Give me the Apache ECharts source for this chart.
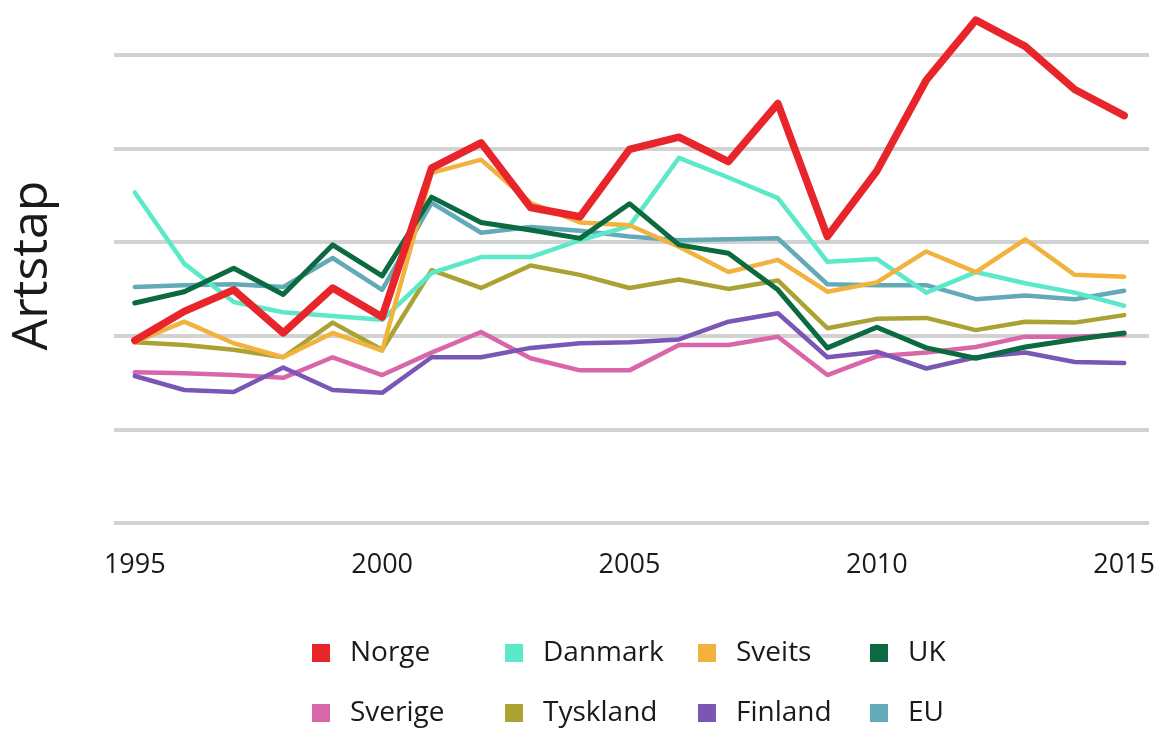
<!DOCTYPE html>
<html>
<head>
<meta charset="utf-8">
<script src="https://cdn.jsdelivr.net/npm/echarts@6/dist/echarts.min.js"></script>
<style>
  html, body { margin: 0; padding: 0; background: #fff; }
  #main { width: 1158px; height: 729px; }
</style>
</head>
<body>
<div id="main"></div>
<script>
// år
var years = [1995, 1996, 1997, 1998, 1999, 2000, 2001, 2002, 2003, 2004, 2005,
  2006, 2007, 2008, 2009, 2010, 2011, 2012, 2013, 2014, 2015];
var yearTicks = [1995, 2000, 2005, 2010, 2015];

// verdier lest av figuren
var norge = [1.95, 2.26, 2.49, 2.03, 2.51, 2.20, 3.79, 4.06, 3.37, 3.27, 3.99,
  4.12, 3.86, 4.48, 3.06, 3.76, 4.73, 5.37, 5.09, 4.63, 4.35];
var danmark = [3.53, 2.77, 2.36, 2.25, 2.21, 2.17, 2.67, 2.84, 2.84, 3.02, 3.17,
  3.90, 3.69, 3.47, 2.79, 2.82, 2.46, 2.68, 2.56, 2.46, 2.32];
var sveits = [1.93, 2.15, 1.92, 1.77, 2.03, 1.84, 3.74, 3.88, 3.42, 3.21, 3.18,
  2.95, 2.68, 2.81, 2.47, 2.57, 2.90, 2.68, 3.03, 2.65, 2.63];
var uk = [2.35, 2.47, 2.72, 2.44, 2.97, 2.64, 3.48, 3.21, 3.13, 3.04, 3.41,
  2.97, 2.88, 2.49, 1.87, 2.09, 1.87, 1.76, 1.88, 1.96, 2.03];
var sverige = [1.61, 1.60, 1.58, 1.55, 1.77, 1.58, 1.82, 2.04, 1.76, 1.63, 1.63,
  1.90, 1.90, 1.99, 1.58, 1.78, 1.82, 1.88, 1.99, 1.99, 2.01];
var tyskland = [1.93, 1.90, 1.85, 1.77, 2.14, 1.85, 2.70, 2.51, 2.75, 2.65, 2.51,
  2.60, 2.50, 2.59, 2.08, 2.18, 2.19, 2.06, 2.15, 2.14, 2.22];
var finland = [1.57, 1.42, 1.40, 1.66, 1.42, 1.39, 1.77, 1.77, 1.87, 1.92, 1.93,
  1.96, 2.15, 2.24, 1.77, 1.83, 1.65, 1.77, 1.82, 1.72, 1.71];
var eu = [2.52, 2.54, 2.55, 2.52, 2.83, 2.49, 3.42, 3.10, 3.16, 3.12, 3.06,
  3.02, 3.03, 3.04, 2.55, 2.54, 2.54, 2.39, 2.43, 2.39, 2.48];

var chart = echarts.init(document.getElementById('main'), null, { renderer: 'canvas' });

function pairs(vals) {
  return years.map(function (y, i) { return [y, vals[i]]; });
}

function line(name, vals, color, width, z) {
  return {
    name: name,
    type: 'line',
    data: pairs(vals),
    symbol: 'none',
    z: z || 2,
    lineStyle: { color: color, width: width, join: 'round', cap: 'round' },
    itemStyle: { color: color }
  };
}

var font = '"Open Sans", "Noto Sans", sans-serif';

// en legend per navn, plassert i to rader og fire kolonner
function legendItem(name, left, top) {
  return {
    left: left,
    top: top,
    padding: 0,
    itemWidth: 18,
    itemHeight: 18,
    icon: 'rect',
    selectedMode: false,
    data: [name],
    textStyle: {
      fontFamily: font,
      fontSize: 28,
      color: '#1a1a1a',
      lineHeight: 32,
      padding: [0, 0, 0, 15]
    }
  };
}

var option = {
  backgroundColor: '#fff',
  animation: false,
  grid: { left: 112, right: 0, top: 8, bottom: 206, containLabel: false },
  xAxis: {
    type: 'value',
    min: 1994.58,
    max: 2015.5,
    axisLine: { show: false },
    axisTick: { show: false },
    splitLine: { show: false },
    axisLabel: {
      customValues: yearTicks,
      margin: 29,
      fontFamily: font,
      fontSize: 27,
      color: '#1a1a1a',
      formatter: function (v) { return String(v); }
    }
  },
  yAxis: {
    type: 'value',
    min: 0,
    max: 5.5,
    interval: 1,
    name: 'Artstap',
    nameLocation: 'middle',
    nameGap: 56,
    nameRotate: 90,
    nameTextStyle: { fontFamily: font, fontSize: 50, color: '#1a1a1a' },
    axisLine: { show: false },
    axisTick: { show: false },
    axisLabel: { show: false },
    splitLine: {
      show: true,
      lineStyle: {
        color: ['#d2d2d2', '#d2d2d2', '#d2d2d2', '#d2d2d2', '#d2d2d2', '#d2d2d2', 'rgba(0,0,0,0)'],
        width: 4
      }
    }
  },
  legend: [
    legendItem('Norge', 312, 637),
    legendItem('Danmark', 505, 637),
    legendItem('Sveits', 698, 637),
    legendItem('UK', 870, 637),
    legendItem('Sverige', 312, 697),
    legendItem('Tyskland', 505, 697),
    legendItem('Finland', 698, 697),
    legendItem('EU', 870, 697)
  ],
  series: [
    line('Sverige', sverige, '#d866a9', 4.5),
    line('Finland', finland, '#7a56b5', 4.5),
    line('Tyskland', tyskland, '#aaa232', 4.5),
    line('EU', eu, '#62aab8', 4.5),
    line('Danmark', danmark, '#5ce9c9', 4.5),
    line('Sveits', sveits, '#f2b23e', 4.5),
    line('UK', uk, '#0b6a40', 5),
    line('Norge', norge, '#e8252a', 7.5, 5)
  ]
};

chart.setOption(option);
</script>
</body>
</html>
